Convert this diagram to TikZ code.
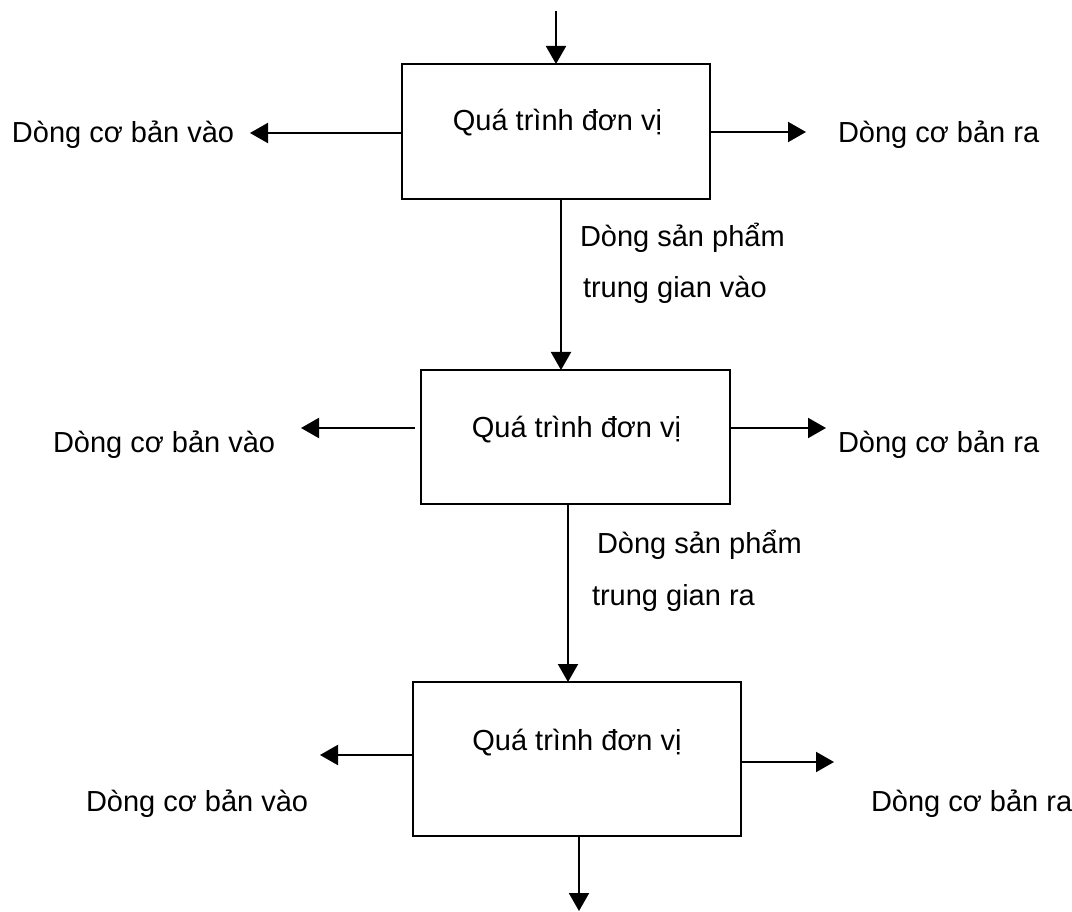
\documentclass[tikz,border=0pt]{standalone}
\usepackage{fontspec}
\setmainfont{Liberation Sans}
\usetikzlibrary{arrows.meta}
\begin{document}
\begin{tikzpicture}[x=1pt,y=-1pt,
  box/.style={draw,line width=2pt,rectangle,inner sep=0pt,outer sep=0pt},
  arr/.style={line width=2pt,-{Triangle[length=18pt,width=20pt]}},
  txt/.style={inner sep=0pt,outer sep=0pt,anchor=base west,font=\fontsize{29pt}{34pt}\selectfont},
  ctxt/.style={inner sep=0pt,outer sep=0pt,anchor=base,font=\fontsize{29pt}{34pt}\selectfont}]
\useasboundingbox[fill=white] (0,0) rectangle (1072,912);

% boxes
\node[box,minimum width=308pt,minimum height=135pt] (b1) at (556,131.5) {};
\node[box,minimum width=309pt,minimum height=134pt] (b2) at (575.5,437) {};
\node[box,minimum width=328pt,minimum height=154pt] (b3) at (577,759) {};

\node[ctxt] (q1) at (557.5,131) {Quá trình đơn vị};
\node[ctxt] (q2) at (576.5,437) {Quá trình đơn vị};
\node[ctxt] (q3) at (577,750) {Quá trình đơn vị};

% side labels
\node[txt] (lv1) at (12,143) {Dòng cơ bản vào};
\node[txt] (rr1) at (838,143) {Dòng cơ bản ra};
\node[txt] (lv2) at (53,452) {Dòng cơ bản vào};
\node[txt] (rr2) at (838,452) {Dòng cơ bản ra};
\node[txt] (lv3) at (86,811) {Dòng cơ bản vào};
\node[txt] (rr3) at (871,811) {Dòng cơ bản ra};

% middle labels
\node[txt] (m1a) at (580,247) {Dòng sản phẩm};
\node[txt] (m1b) at (583,298) {trung gian vào};
\node[txt] (m2a) at (597,553) {Dòng sản phẩm};
\node[txt] (m2b) at (592,605) {trung gian ra};

% free ends
\coordinate (in1) at (556,11);
\coordinate (l1) at (250,133);
\coordinate (r1) at (806,132);
\coordinate (l2) at (301,428);
\coordinate (r2) at (826,428);
\coordinate (l3) at (320,755);
\coordinate (r3) at (834,762);
\coordinate (out3) at (579,911);

% connectors
\draw[arr] (in1) -- (b1.north);
\draw[arr] (b1.west |- l1) -- (l1);
\draw[arr] (b1.east |- r1) -- (r1);
\draw[arr] ([xshift=5pt]b1.south) -- ([xshift=5pt]b1.south |- b2.north);
\draw[arr] ([xshift=-6pt]b2.west |- l2) -- (l2);
\draw[arr] (b2.east |- r2) -- (r2);
\draw[arr] ([xshift=-7.5pt]b2.south) -- ([xshift=-7.5pt]b2.south |- b3.north);
\draw[arr] (b3.west |- l3) -- (l3);
\draw[arr] (b3.east |- r3) -- (r3);
\draw[arr] (b3.south -| out3) -- (out3);
\end{tikzpicture}
\end{document}
